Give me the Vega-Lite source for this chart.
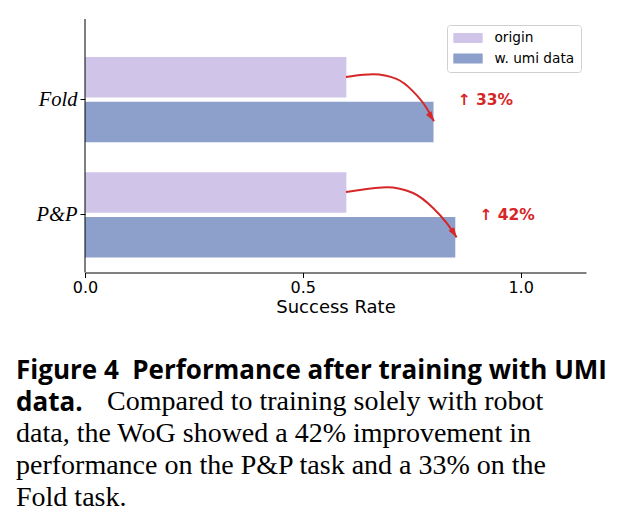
{
  "$schema": "https://vega.github.io/schema/vega-lite/v6.json",
  "autosize": "none",
  "width": 501,
  "height": 253.5,
  "padding": {"left": 85, "top": 19, "right": 39, "bottom": 257.5},
  "background": "white",
  "datasets": {
    "bars": [
      {"task": "Fold", "series": "origin", "rate": 0.6},
      {"task": "Fold", "series": "w. umi data", "rate": 0.8},
      {"task": "P&P", "series": "origin", "rate": 0.6},
      {"task": "P&P", "series": "w. umi data", "rate": 0.85}
    ],
    "gains": [
      {"task": "Fold", "rate": 0.8, "label": "↑ 33%"},
      {"task": "P&P", "rate": 0.85, "label": "↑ 42%"}
    ],
    "arrows": [
      {"arrow": "Fold", "rate": 0.599, "level": 1.197},
      {"arrow": "Fold", "rate": 0.639, "level": 1.217},
      {"arrow": "Fold", "rate": 0.662, "level": 1.22},
      {"arrow": "Fold", "rate": 0.715, "level": 1.18},
      {"arrow": "Fold", "rate": 0.753, "level": 1.072},
      {"arrow": "Fold", "rate": 0.784, "level": 0.928},
      {"arrow": "Fold", "rate": 0.801, "level": 0.812},
      {"arrow": "P&P", "rate": 0.599, "level": 0.199},
      {"arrow": "P&P", "rate": 0.639, "level": 0.221},
      {"arrow": "P&P", "rate": 0.692, "level": 0.239},
      {"arrow": "P&P", "rate": 0.753, "level": 0.19},
      {"arrow": "P&P", "rate": 0.799, "level": 0.06},
      {"arrow": "P&P", "rate": 0.83, "level": -0.07},
      {"arrow": "P&P", "rate": 0.853, "level": -0.195}
    ],
    "heads": [
      {"arrow": "Fold", "rate": 0.801, "level": 0.812},
      {"arrow": "P&P", "rate": 0.853, "level": -0.195}
    ]
  },
  "title": {
    "text": ["Figure 4\u00a0\u00a0Performance after training with UMI", "data."],
    "subtitle": [
      "\u200b\u00a0\u00a0\u00a0\u00a0\u00a0\u00a0\u00a0\u00a0\u00a0\u00a0\u00a0\u00a0\u00a0Compared to training solely with robot",
      "data, the WoG showed a 42% improvement in",
      "performance on the P&P task and a 33% on the",
      "Fold task."
    ],
    "orient": "bottom",
    "anchor": "start",
    "frame": "group",
    "dx": -69,
    "offset": 41,
    "limit": 1000,
    "font": "Open Sans",
    "fontSize": 26,
    "fontWeight": "bold",
    "color": "black",
    "lineHeight": 32,
    "subtitleFont": "Liberation Serif",
    "subtitleFontSize": 28,
    "subtitleFontWeight": "normal",
    "subtitleColor": "black",
    "subtitleLineHeight": 32,
    "subtitlePadding": -28
  },
  "layer": [
    {
      "layer": [
        {
          "data": {"name": "bars"},
          "mark": {"type": "bar"},
          "encoding": {
            "y": {
              "field": "task", "type": "nominal",
              "scale": {"domain": ["Fold", "P&P"], "range": [23.05, 253.5], "paddingInner": 0, "paddingOuter": 0},
              "axis": {"title": null, "domain": false, "ticks": true, "tickSize": 5, "tickColor": "black", "tickWidth": 1, "labelFont": "Liberation Serif", "labelFontStyle": "italic", "labelFontSize": 20.5, "labelColor": "black", "labelPadding": 3}
            },
            "yOffset": {
              "field": "series", "type": "nominal",
              "scale": {"domain": ["origin", "w. umi data"], "paddingInner": 0.096, "paddingOuter": 0.333}
            },
            "x": {
              "field": "rate", "type": "quantitative",
              "scale": {"domain": [0, 1.15], "nice": false},
              "axis": {"title": "Success Rate", "values": [0, 0.5, 1], "format": ".1f", "grid": false, "labelFlush": false, "domainColor": "black", "domainWidth": 1, "tickColor": "black", "tickWidth": 1, "tickSize": 5, "labelFont": "DejaVu Sans", "labelFontSize": 16, "labelColor": "black", "labelPadding": 2, "titleFont": "DejaVu Sans", "titleFontSize": 18, "titleFontWeight": "normal", "titleColor": "black", "titlePadding": 3}
            },
            "color": {
              "field": "series", "type": "nominal",
              "scale": {"domain": ["origin", "w. umi data"], "range": ["#d1c4e9", "#8da0cb"]},
              "legend": {"title": null, "orient": "none", "legendX": 362, "legendY": 6, "symbolType": "M-2.1,-0.714H2.1V0.714H-2.1Z", "symbolSize": 196, "symbolOffset": 8, "symbolStrokeWidth": 0, "symbolOpacity": 1, "labelFont": "DejaVu Sans", "labelFontSize": 13.7, "labelColor": "black", "labelOffset": 19.5, "padding": 6, "strokeColor": "#d0d0d0", "fillColor": "white", "cornerRadius": 3, "rowPadding": 6.5}
            }
          }
        },
        {
          "data": {"name": "gains"},
          "mark": {"type": "text", "align": "left", "baseline": "middle", "dx": 24, "font": "DejaVu Sans", "fontWeight": "bold", "fontSize": 15.5, "color": "#d62728"},
          "encoding": {
            "y": {"field": "task", "type": "nominal"},
            "x": {"field": "rate", "type": "quantitative", "scale": {"domain": [0, 1.15], "nice": false}},
            "text": {"field": "label"}
          }
        },
        {
          "data": {"values": [{}]},
          "mark": {"type": "rule", "color": "black", "strokeWidth": 1},
          "encoding": {"x": {"datum": 0, "type": "quantitative", "scale": {"domain": [0, 1.15], "nice": false}}}
        }
      ]
    },
    {
      "layer": [
        {
          "data": {"name": "arrows"},
          "mark": {"type": "line", "interpolate": "monotone", "color": "#d62728", "strokeWidth": 2},
          "encoding": {
            "x": {"field": "rate", "type": "quantitative", "scale": {"domain": [0, 1.15], "nice": false}},
            "y": {"field": "level", "type": "quantitative", "scale": {"domain": [-0.5, 1.7], "nice": false, "zero": false}, "axis": null},
            "detail": {"field": "arrow"}
          }
        },
        {
          "data": {"name": "heads"},
          "mark": {"type": "point", "shape": "M0,0L-0.6,-1.8L0.6,-1.8Z", "filled": true, "size": 121, "angle": 328, "color": "#d62728", "opacity": 1, "strokeWidth": 0},
          "encoding": {
            "x": {"field": "rate", "type": "quantitative", "scale": {"domain": [0, 1.15], "nice": false}},
            "y": {"field": "level", "type": "quantitative", "scale": {"domain": [-0.5, 1.7], "nice": false, "zero": false}, "axis": null}
          }
        }
      ]
    }
  ],
  "resolve": {"scale": {"y": "independent"}},
  "config": {"view": {"stroke": null}, "axis": {"grid": false}}
}
